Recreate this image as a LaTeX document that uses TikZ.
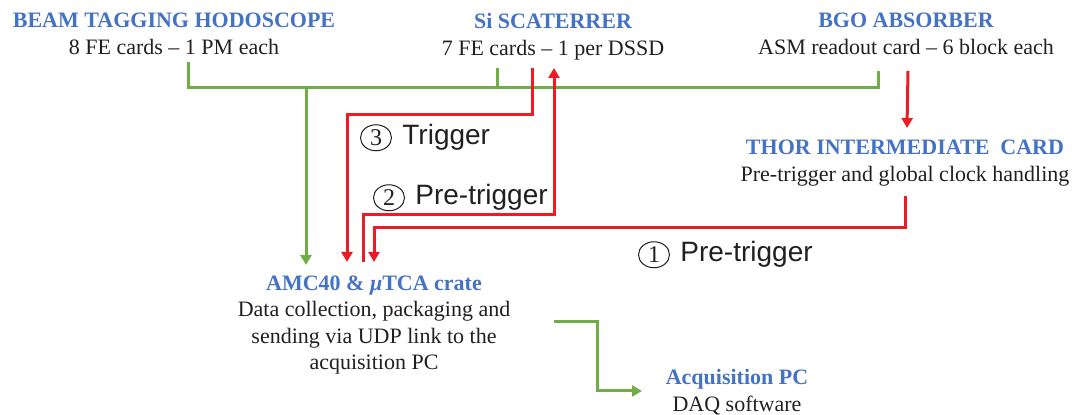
\documentclass[tikz,border=0pt]{standalone}
\usepackage{fontspec}
\setmainfont{Liberation Serif}
\newfontfamily\sigfont{Liberation Sans}
\usetikzlibrary{calc,positioning,arrows.meta,shapes.geometric}
\definecolor{titleblue}{RGB}{68,114,196}
\definecolor{wiregreen}{RGB}{112,173,71}
\definecolor{wirered}{RGB}{237,28,36}
\definecolor{bodytext}{RGB}{35,31,32}
\tikzset{
        block/.style={align=center, anchor=north, inner sep=0pt, text=bodytext, font=\fontsize{11}{13.3}\selectfont},
        gwire/.style={draw=wiregreen, line width=1.5pt},
        rwire/.style={draw=wirered, line width=1.5pt},
        tip/.style={-{Triangle[length=5pt,width=5.5pt]}},
        numc/.style={ellipse, draw=bodytext, line width=0.5pt, inner sep=0pt, minimum width=15.5pt, minimum height=13pt, text=bodytext, font=\fontsize{12}{12}\selectfont},
        siglabel/.style={inner sep=0pt, anchor=base west, text=bodytext, font=\sigfont\fontsize{14}{14}\selectfont}
          }
\newcommand{\blocktitle}[1]{{\color{titleblue}\bfseries #1}}

\begin{document}
\begin{tikzpicture}[x=0.5pt, y=-0.5pt]
        \useasboundingbox (0,0) rectangle (1078,415);
        % detector blocks
        \node[block] (beam) at (174,13) {\blocktitle{BEAM TAGGING HODOSCOPE}\\8 FE cards -- 1 PM each};
        \node[block] (si) at (553,13) {\blocktitle{Si SCATERRER}\\7 FE cards -- 1 per DSSD};
        \node[block] (bgo) at (906,13) {\blocktitle{BGO ABSORBER}\\ASM readout card -- 6 block each};
        \node[block] (thor) at (905,140) {\blocktitle{THOR INTERMEDIATE\ \ CARD}\\Pre-trigger and global clock handling};
        \node[block] (amc) at (374,275) {\blocktitle{AMC40 \& \textit{μ}TCA crate}\\Data collection, packaging and\\sending via UDP link to the\\acquisition PC};
        \node[block] (acq) at (737,369) {\blocktitle{Acquisition PC}\\DAQ software};
        % signal labels
        \node[siglabel] (trig) at (402,145) {Trigger};
        \node[numc, left=5pt of trig.west] (n3) {3};
        \node[siglabel] (pre2) at (415,205) {Pre-trigger};
        \node[numc, left=5pt of pre2.west] (n2) {2};
        \node[siglabel] (pre1) at (680,262) {Pre-trigger};
        \node[numc, left=5pt of pre1.west] (n1) {1};
        % data bus
        \draw[gwire] ($(beam.north)+(14,49)$) |- ($(bgo.north)+(-28,75)$) -- ($(bgo.north)+(-28,58)$);
        \draw[gwire] ($(si.north)+(-56,55)$) -- ($(si.north)+(-56,75)$);
        \draw[gwire,tip] ($(beam.north)+(132,75)$) -- ($(amc.north)+(-68,-10)$);
        \draw[gwire,tip] ($(amc.north)+(180,47)$) -- ++(43,0) |- ($(acq.north)+(-95,22)$);
        % trigger lines
        \draw[rwire,tip] ($(bgo.north)+(2,58)$) -- ($(thor.north)+(2,-12)$);
        \draw[rwire,tip] ($(thor.north)+(0,56)$) -- ++(0,32) -| ($(amc.north)+(0,-13)$);
        \draw[rwire,tip] ($(amc.north)+(-11,-13)$) -- ++(0,-47) -| ($(si.north)+(1,55)$);
        \draw[rwire,tip] ($(si.north)+(-21,55)$) -- ++(0,47) -| ($(amc.north)+(-27,-13)$);
\end{tikzpicture}
\end{document}
